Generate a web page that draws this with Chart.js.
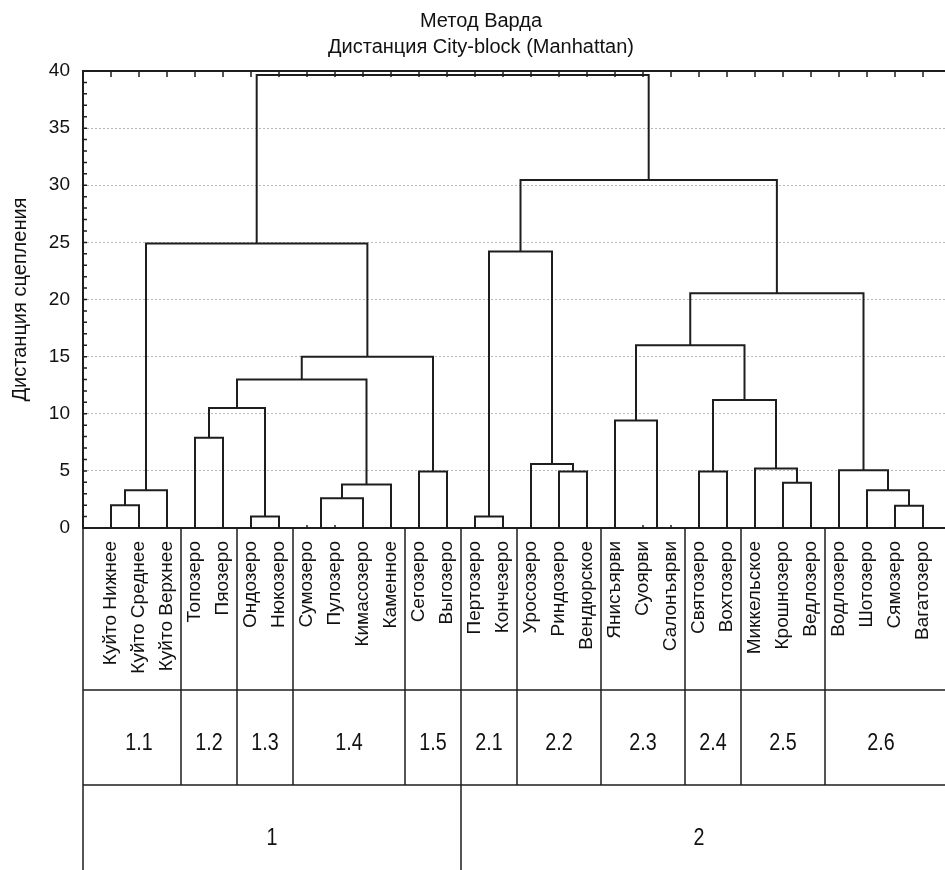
<!DOCTYPE html>
<html>
<head>
<meta charset="utf-8">
<script src="https://cdn.jsdelivr.net/npm/chart.js@4.4.1/dist/chart.umd.min.js"></script>
<style>
  html, body { margin: 0; padding: 0; background: #fff; overflow: hidden; }
  #wrap { position: absolute; left: 0; top: 0; width: 951px; height: 870px; }
</style>
</head>
<body>
<div id="wrap"><canvas id="dendro" width="951" height="870"></canvas></div>
<script>
// lakes in dendrogram (leaf) order
const lakes = [
  'Куйто Нижнее', 'Куйто Среднее', 'Куйто Верхнее', 'Топозеро', 'Пяозеро',
  'Ондозеро', 'Нюкозеро', 'Сумозеро', 'Пулозеро', 'Кимасозеро',
  'Каменное', 'Сегозеро', 'Выгозеро', 'Пертозеро', 'Кончезеро',
  'Уросозеро', 'Риндозеро', 'Вендюрское', 'Янисъярви', 'Суоярви',
  'Салонъярви', 'Святозеро', 'Вохтозеро', 'Миккельское', 'Крошнозеро',
  'Ведлозеро', 'Водлозеро', 'Шотозеро', 'Сямозеро', 'Вагатозеро'
];

// Ward linkage. ids 0..29 = lakes, 30+ = merge k
const mergeLeft   = [0, 30, 3, 5, 32, 7, 35, 36, 34, 11, 38, 31, 13, 16, 15, 42, 19, 18, 21, 24, 23, 48, 47, 28, 27, 26, 52, 45, 41];
const mergeRight  = [1, 2, 4, 6, 33, 8, 9, 10, 37, 12, 39, 40, 14, 17, 43, 44, 20, 46, 22, 25, 49, 50, 51, 29, 53, 54, 55, 56, 57];
const mergeHeight = [2.0, 3.3, 7.9, 1.0, 10.5, 0.0, 2.6, 3.8, 13.0, 4.95, 15.0, 24.9,
                     1.0, 4.95, 5.6, 24.2, 0.0, 9.4, 4.95, 3.95, 5.2, 11.2, 16.0,
                     1.95, 3.3, 5.05, 20.55, 30.45, 39.65];

// cluster table under the labels
const subClusters = ['1.1', '1.2', '1.3', '1.4', '1.5', '2.1', '2.2', '2.3', '2.4', '2.5', '2.6'];
const subSizes    = [3, 2, 2, 4, 2, 2, 3, 3, 2, 3, 4];
const mainClusters = ['1', '2'];
const mainSizes    = [13, 17];

const titleLines = ['Метод Варда', 'Дистанция City-block (Manhattan)'];
const yTitle = 'Дистанция сцепления';
const yMin = 0, yMax = 40, yStep = 5;

const FONT = '"Liberation Sans", Arial, sans-serif';
const INK = '#1e1e1e';

// build the U-shaped links from the linkage
const nodeX = lakes.map((_, i) => i + 1);
const nodeY = lakes.map(() => 0);
const links = mergeHeight.map((h, k) => {
  const a = mergeLeft[k], b = mergeRight[k];
  const pts = [
    {x: nodeX[a], y: nodeY[a]},
    {x: nodeX[a], y: h},
    {x: nodeX[b], y: h},
    {x: nodeX[b], y: nodeY[b]}
  ];
  nodeX.push((nodeX[a] + nodeX[b]) / 2);
  nodeY.push(h);
  return pts;
});

const tablePlugin = {
  id: 'frameAndTable',
  afterDraw(chart) {
    const {ctx, chartArea: ca, scales: {x, y}} = chart;
    ctx.save();
    ctx.strokeStyle = INK;
    ctx.fillStyle = '#111';

    // plot frame
    ctx.lineWidth = 2;
    ctx.strokeRect(ca.left, ca.top, ca.right - ca.left, ca.bottom - ca.top);

    // small inner ticks
    ctx.lineWidth = 1.5;
    ctx.beginPath();
    for (let v = yMin + 1; v < yMax; v++) {
      const py = y.getPixelForValue(v);
      ctx.moveTo(ca.left, py);
      ctx.lineTo(ca.left + 4, py);
    }
    for (let i = 1; i <= lakes.length; i++) {
      const px = x.getPixelForValue(i);
      ctx.moveTo(px, ca.top);
      ctx.lineTo(px, ca.top + 6);
      ctx.moveTo(px, ca.bottom);
      ctx.lineTo(px, ca.bottom - 3);
    }
    ctx.stroke();

    // table (last column edge is not drawn in the original)
    const r1 = x.bottom, r2 = r1 + 95, r3 = chart.height;
    ctx.lineWidth = 1.5;
    ctx.beginPath();
    ctx.moveTo(ca.left, r1); ctx.lineTo(ca.right, r1);
    ctx.moveTo(ca.left, r2); ctx.lineTo(ca.right, r2);
    ctx.moveTo(ca.left, ca.bottom); ctx.lineTo(ca.left, r3);
    let n = 0;
    subSizes.slice(0, -1).forEach(s => {
      n += s;
      const px = x.getPixelForValue(n + 0.5);
      ctx.moveTo(px, ca.bottom); ctx.lineTo(px, r2);
    });
    n = 0;
    mainSizes.slice(0, -1).forEach(s => {
      n += s;
      const px = x.getPixelForValue(n + 0.5);
      ctx.moveTo(px, r2); ctx.lineTo(px, r3);
    });
    ctx.stroke();

    const narrow = (txt, cx, cy) => {
      ctx.save();
      ctx.translate(cx, cy);
      ctx.scale(0.82, 1);
      ctx.fillText(txt, 0, 0);
      ctx.restore();
    };
    ctx.font = '24px ' + FONT;
    ctx.textAlign = 'center';
    ctx.textBaseline = 'middle';
    n = 0;
    subSizes.forEach((s, i) => {
      const l = x.getPixelForValue(n + 0.5), r = x.getPixelForValue(n + s + 0.5);
      narrow(subClusters[i], (l + r) / 2, r1 + 53);
      n += s;
    });
    n = 0;
    mainSizes.forEach((s, i) => {
      const l = n === 0 ? ca.left : x.getPixelForValue(n + 0.5);
      const r = x.getPixelForValue(n + s + 0.5);
      narrow(mainClusters[i], (l + r) / 2, r2 + 53);
      n += s;
    });

    // title
    ctx.font = '20px ' + FONT;
    ctx.fillText(titleLines[0], 481, 21);
    ctx.fillText(titleLines[1], 481, 47);
    ctx.restore();
  }
};

new Chart(document.getElementById('dendro'), {
  type: 'scatter',
  data: {
    datasets: links.map(pts => ({
      data: pts,
      showLine: true,
      borderColor: INK,
      borderWidth: 2,
      pointRadius: 0,
      tension: 0,
      clip: 3
    }))
  },
  options: {
    responsive: false,
    animation: false,
    events: [],
    layout: { padding: { top: 71, bottom: 180, left: 0, right: 0 } },
    plugins: {
      legend: { display: false },
      tooltip: { enabled: false }
    },
    scales: {
      x: {
        type: 'linear',
        min: 0,
        max: lakes.length + 1,
        grid: { display: false, drawTicks: false },
        border: { display: false },
        ticks: {
          stepSize: 1,
          autoSkip: false,
          minRotation: 90,
          maxRotation: 90,
          padding: 13,
          color: '#111',
          font: { family: FONT, size: 19 },
          callback: v => lakes[v - 1] || ''
        },
        afterFit: s => {
          s.height = 162;
          s.paddingLeft = 0;
          s.paddingRight = 0;
        }
      },
      y: {
        min: yMin,
        max: yMax,
        grid: {
          drawTicks: false,
          lineWidth: 1,
          color: c => (c.tick.value === yMin || c.tick.value === yMax) ? 'rgba(0,0,0,0)' : '#b8b8b8'
        },
        border: { display: false, dash: [2, 2] },
        ticks: {
          stepSize: yStep,
          padding: 13,
          color: '#111',
          font: { family: FONT, size: 19 }
        },
        title: {
          display: true,
          text: yTitle,
          color: '#111',
          font: { family: FONT, size: 20 },
          padding: { top: 8, bottom: 0 }
        },
        afterFit: s => {
          s.width = 83;
          s.paddingTop = 0;
          s.paddingBottom = 0;
        }
      }
    }
  },
  plugins: [tablePlugin]
});
</script>
</body>
</html>
